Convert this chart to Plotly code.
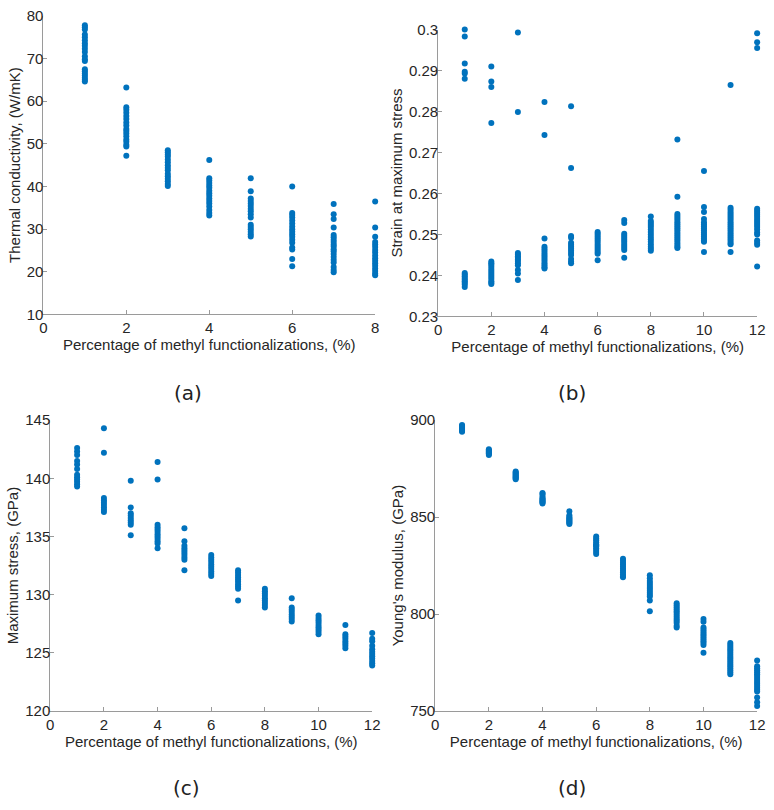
import plotly.graph_objects as go

# ---------------- data ----------------
x_a = [1, 2, 3, 4, 5, 6, 7, 8]
thermal = [
    [77.8, 77.3, 76.8, 75.6, 75.0, 74.3, 73.6, 73.0, 72.3, 71.5, 70.5, 69.8, 69.4, 67.5, 67.0, 66.5, 66.0, 65.5, 65.0, 64.6],
    [63.2, 58.6, 58.0, 57.3, 56.5, 55.8, 55.0, 54.3, 53.5, 53.0, 52.4, 51.8, 51.0, 50.5, 49.8, 49.4, 47.2],
    [48.5, 48.0, 47.5, 47.0, 46.3, 45.7, 45.0, 44.4, 43.8, 43.0, 42.4, 41.8, 41.2, 40.6, 40.1],
    [46.2, 41.9, 41.4, 40.8, 40.2, 39.7, 39.0, 38.4, 37.8, 37.2, 36.6, 36.0, 35.3, 34.5, 33.8, 33.2],
    [41.9, 38.9, 37.2, 36.6, 36.0, 35.4, 34.8, 34.2, 33.5, 32.7, 31.0, 30.5, 30.0, 29.4, 28.8, 28.3],
    [40.0, 33.8, 33.3, 32.7, 32.0, 31.3, 30.6, 30.0, 29.4, 28.8, 28.2, 27.5, 26.8, 25.7, 25.2, 23.0, 21.3],
    [35.9, 33.5, 32.4, 30.4, 28.6, 28.1, 27.5, 27.0, 26.4, 25.9, 25.3, 24.8, 24.2, 23.5, 22.8, 22.2, 21.1, 20.4, 19.9],
    [36.5, 30.4, 28.2, 27.0, 26.4, 25.8, 25.1, 24.5, 23.8, 23.2, 22.6, 22.0, 21.4, 20.8, 20.2, 19.6, 19.2],
]

x_b = [1, 2, 3, 4, 5, 6, 7, 8, 9, 10, 11, 12]
strain = [
    [0.3000, 0.2983, 0.2917, 0.2897, 0.2893, 0.2880, 0.2406, 0.2402, 0.2398, 0.2394, 0.2390, 0.2386, 0.2382, 0.2378, 0.2372],
    [0.2910, 0.2873, 0.2860, 0.2772, 0.2434, 0.2430, 0.2426, 0.2421, 0.2416, 0.2411, 0.2406, 0.2401, 0.2396, 0.2391, 0.2386, 0.2382, 0.2379],
    [0.2993, 0.2799, 0.2455, 0.2451, 0.2447, 0.2443, 0.2439, 0.2435, 0.2430, 0.2425, 0.2413, 0.2405, 0.2389],
    [0.2823, 0.2743, 0.2490, 0.2470, 0.2465, 0.2460, 0.2455, 0.2450, 0.2445, 0.2440, 0.2435, 0.2430, 0.2425, 0.2420, 0.2417],
    [0.2813, 0.2662, 0.2496, 0.2492, 0.2480, 0.2475, 0.2470, 0.2465, 0.2460, 0.2455, 0.2450, 0.2440, 0.2434, 0.2430],
    [0.2506, 0.2502, 0.2497, 0.2492, 0.2487, 0.2482, 0.2477, 0.2472, 0.2467, 0.2462, 0.2457, 0.2453, 0.2437],
    [0.2535, 0.2528, 0.2502, 0.2497, 0.2492, 0.2487, 0.2482, 0.2477, 0.2472, 0.2467, 0.2462, 0.2443],
    [0.2544, 0.2533, 0.2528, 0.2523, 0.2518, 0.2512, 0.2506, 0.2500, 0.2494, 0.2488, 0.2482, 0.2476, 0.2470, 0.2465, 0.2460],
    [0.2732, 0.2592, 0.2550, 0.2545, 0.2540, 0.2535, 0.2530, 0.2525, 0.2520, 0.2515, 0.2510, 0.2505, 0.2500, 0.2495, 0.2490, 0.2485, 0.2480, 0.2475, 0.2470, 0.2467],
    [0.2655, 0.2567, 0.2555, 0.2538, 0.2530, 0.2525, 0.2520, 0.2515, 0.2510, 0.2505, 0.2500, 0.2495, 0.2490, 0.2485, 0.2482, 0.2457],
    [0.2865, 0.2565, 0.2560, 0.2555, 0.2550, 0.2545, 0.2540, 0.2535, 0.2530, 0.2525, 0.2520, 0.2515, 0.2510, 0.2505, 0.2500, 0.2495, 0.2490, 0.2485, 0.2480, 0.2476, 0.2457],
    [0.2991, 0.2969, 0.2955, 0.2563, 0.2558, 0.2553, 0.2548, 0.2543, 0.2538, 0.2533, 0.2528, 0.2523, 0.2518, 0.2512, 0.2505, 0.2500, 0.2485, 0.2480, 0.2475, 0.2422],
]

x_c = [1, 2, 3, 4, 5, 6, 7, 8, 9, 10, 11, 12]
max_stress = [
    [142.6, 142.3, 142.0, 141.5, 141.2, 140.8, 140.3, 140.1, 139.9, 139.7, 139.5, 139.3],
    [144.3, 142.2, 138.3, 138.1, 137.9, 137.7, 137.5, 137.3, 137.1],
    [139.8, 137.5, 137.0, 136.8, 136.6, 136.4, 136.2, 136.0, 135.1],
    [141.4, 139.9, 136.0, 135.8, 135.6, 135.4, 135.2, 135.0, 134.8, 134.6, 134.4, 134.0],
    [135.7, 134.6, 134.2, 134.0, 133.8, 133.6, 133.4, 133.2, 133.0, 132.1],
    [133.4, 133.2, 133.0, 132.8, 132.6, 132.4, 132.2, 132.0, 131.8, 131.6],
    [132.1, 131.9, 131.7, 131.5, 131.3, 131.1, 130.9, 130.7, 130.5, 129.5],
    [130.5, 130.3, 130.1, 129.9, 129.7, 129.5, 129.3, 129.1, 128.9],
    [129.7, 128.9, 128.7, 128.5, 128.3, 128.1, 127.9, 127.7],
    [128.2, 128.0, 127.8, 127.6, 127.4, 127.2, 127.0, 126.8, 126.6],
    [127.4, 126.6, 126.4, 126.2, 126.0, 125.8, 125.6, 125.4],
    [126.7, 126.2, 126.0, 125.6, 125.3, 125.1, 124.9, 124.7, 124.5, 124.3, 124.1, 123.9],
]

x_d = [1, 2, 3, 4, 5, 6, 7, 8, 9, 10, 11, 12]
youngs = [
    [897.5, 897, 896.5, 896, 895.5, 895, 894.5, 894],
    [885, 884.5, 884, 883.5, 883, 882.5, 882],
    [873.5, 873, 872.5, 872, 871.5, 871, 870.5, 870, 869.5],
    [862.5, 862, 861, 860, 859.5, 859, 858.5, 858, 857.5, 857],
    [853, 851, 850, 849.5, 849, 848.5, 848, 847.5, 847, 846.5],
    [840, 839, 838, 837, 836, 835.5, 835, 834, 833, 832, 831],
    [828.5, 827.5, 826.5, 825.5, 824.5, 823.5, 822.5, 821.5, 820.5, 819.5, 819],
    [820, 818.5, 817, 816, 815, 814, 813, 812, 811, 810, 809, 807, 801.5],
    [805.5, 804.5, 803.5, 802.5, 801.5, 800.5, 799.5, 798.5, 797.5, 796.5, 795.5, 794, 793],
    [797.5, 796, 793, 792, 791, 790, 789, 788, 787, 786, 785, 784, 780],
    [785, 784, 783, 782, 781, 780, 779, 778, 777, 776, 775, 774, 773, 772, 771, 770, 769],
    [776, 773, 772, 771, 770, 769, 768, 767, 766, 765, 764, 763, 762, 761, 760, 757, 754.5, 752.5],
]

x_title = "Percentage of methyl functionalizations, (%)"
y_titles = ["Thermal conductivity, (W/mK)", "Strain at maximum stress",
            "Maximum stress, (GPa)", "Young's modulus, (GPa)"]
panel_labels = ["(a)", "(b)", "(c)", "(d)"]

xt_a = [0, 2, 4, 6, 8]
xt_12 = [0, 2, 4, 6, 8, 10, 12]
yt_a = [10, 20, 30, 40, 50, 60, 70, 80]
yt_b = [0.23, 0.24, 0.25, 0.26, 0.27, 0.28, 0.29, 0.30]
yt_b_text = ["0.23", "0.24", "0.25", "0.26", "0.27", "0.28", "0.29", "0.3"]
yt_c = [120, 125, 130, 135, 140, 145]
yt_d = [750, 800, 850, 900]

# ---------------- figure ----------------
COLOR = "#0072BD"
W, H = 774, 810

def flat(xs, groups):
    px, py = [], []
    for xv, g in zip(xs, groups):
        for v in g:
            px.append(xv)
            py.append(v)
    return px, py

fig = go.Figure()
panels = [
    (x_a, thermal, "x", "y"),
    (x_b, strain, "x2", "y2"),
    (x_c, max_stress, "x3", "y3"),
    (x_d, youngs, "x4", "y4"),
]
for xs, groups, xa, ya in panels:
    px, py = flat(xs, groups)
    fig.add_trace(go.Scatter(x=px, y=py, mode="markers", xaxis=xa, yaxis=ya,
                             marker=dict(color=COLOR, size=6, line=dict(width=0)),
                             cliponaxis=False, showlegend=False, hoverinfo="x+y"))

def px2x(a, b):
    return [a / W, b / W]

def px2y(top, bottom):
    return [(H - bottom) / H, (H - top) / H]

TICKFONT = dict(family="Liberation Sans, Arial, sans-serif", size=15, color="#262626")
TITLEFONT = dict(family="Liberation Sans, Arial, sans-serif", size=15, color="#262626")
AX = dict(showline=True, linecolor="#9a9a9a", linewidth=1, ticks="inside", ticklen=4,
          tickcolor="#9a9a9a", showgrid=False, zeroline=False, mirror=False,
          tickfont=TICKFONT)

def xax(dom, anchor, tv, rng):
    return dict(AX, domain=dom, anchor=anchor, range=rng, tickvals=tv,
                ticktext=[str(t) for t in tv],
                title=dict(text=x_title, font=TITLEFONT, standoff=1))

def yax(dom, anchor, tv, rng, tt=None, standoff=2):
    return dict(AX, domain=dom, anchor=anchor, range=rng, tickvals=tv,
                ticktext=tt if tt else [str(t) for t in tv],
                ticklabelstandoff=-4,
                title=dict(text=None, font=TITLEFONT, standoff=standoff))

lay = dict(
    width=W, height=H, margin=dict(l=0, r=0, t=0, b=0),
    paper_bgcolor="white", plot_bgcolor="white", showlegend=False,
    xaxis=xax(px2x(40, 377), "y", xt_a, [0, 8]),
    yaxis=yax(px2y(7, 312), "x", yt_a, [10, 80]),
    xaxis2=xax(px2x(441, 765), "y2", xt_12, [0, 12]),
    yaxis2=yax(px2y(21, 314), "x2", yt_b, [0.23, 0.30], yt_b_text),
    xaxis3=xax(px2x(47, 374), "y3", xt_12, [0, 12]),
    yaxis3=yax(px2y(420, 717), "x3", yt_c, [120, 145]),
    xaxis4=xax(px2x(438, 765), "y4", xt_12, [0, 12]),
    yaxis4=yax(px2y(420, 717), "x4", yt_d, [750, 900]),
)
for i, key in enumerate(["yaxis", "yaxis2", "yaxis3", "yaxis4"]):
    lay[key]["title"]["text"] = y_titles[i]
fig.update_layout(**lay)

label_pos = [(187, 392), (577, 392), (185, 796), (577, 796)]
for lab, (lx, ly) in zip(panel_labels, label_pos):
    fig.add_annotation(text=lab, x=lx / W, y=(H - ly) / H, xref="paper", yref="paper",
                       showarrow=False, xanchor="center", yanchor="middle",
                       font=dict(family="DejaVu Sans, sans-serif", size=20, color="#222222"))

fig.write_html("out.html")
